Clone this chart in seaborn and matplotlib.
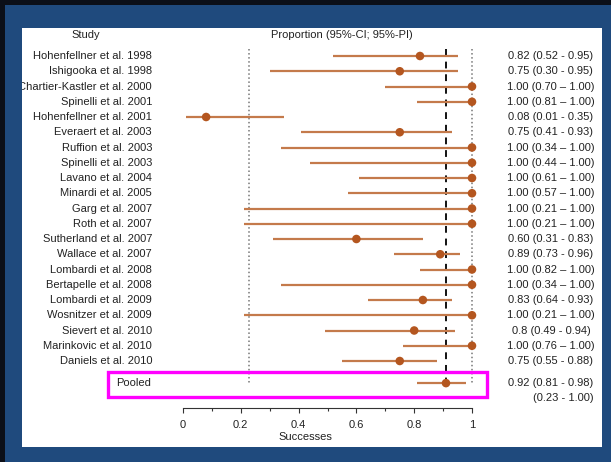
import numpy as np
import pandas as pd
import matplotlib
matplotlib.use('Agg')
import matplotlib.pyplot as plt
import seaborn as sns
from matplotlib.patches import Rectangle

# study-level proportions with 95% CI
studies = [
    'Hohenfellner et al. 1998', 'Ishigooka et al. 1998', 'Chartier-Kastler et al. 2000',
    'Spinelli et al. 2001', 'Hohenfellner et al. 2001', 'Everaert et al. 2003',
    'Ruffion et al. 2003', 'Spinelli et al. 2003', 'Lavano et al. 2004',
    'Minardi et al. 2005', 'Garg et al. 2007', 'Roth et al. 2007',
    'Sutherland et al. 2007', 'Wallace et al. 2007', 'Lombardi et al. 2008',
    'Bertapelle et al. 2008', 'Lombardi et al. 2009', 'Wosnitzer et al. 2009',
    'Sievert et al. 2010', 'Marinkovic et al. 2010', 'Daniels et al. 2010',
]
estimate = [0.82, 0.75, 1.00, 1.00, 0.08, 0.75, 1.00, 1.00, 1.00, 1.00, 1.00,
            1.00, 0.60, 0.89, 1.00, 1.00, 0.83, 1.00, 0.80, 1.00, 0.75]
ci_low = [0.52, 0.30, 0.70, 0.81, 0.01, 0.41, 0.34, 0.44, 0.61, 0.57, 0.21,
          0.21, 0.31, 0.73, 0.82, 0.34, 0.64, 0.21, 0.49, 0.76, 0.55]
ci_high = [0.95, 0.95, 1.00, 1.00, 0.35, 0.93, 1.00, 1.00, 1.00, 1.00, 1.00,
           1.00, 0.83, 0.96, 1.00, 1.00, 0.93, 1.00, 0.94, 1.00, 0.88]
ci_text = [
    '0.82 (0.52 - 0.95)', '0.75 (0.30 - 0.95)', '1.00 (0.70 \u2013 1.00)',
    '1.00 (0.81 \u2013 1.00)', '0.08 (0.01 - 0.35)', '0.75 (0.41 - 0.93)',
    '1.00 (0.34 \u2013 1.00)', '1.00 (0.44 \u2013 1.00)', '1.00 (0.61 \u2013 1.00)',
    '1.00 (0.57 \u2013 1.00)', '1.00 (0.21 \u2013 1.00)', '1.00 (0.21 \u2013 1.00)',
    '0.60 (0.31 - 0.83)', '0.89 (0.73 - 0.96)', '1.00 (0.82 \u2013 1.00)',
    '1.00 (0.34 \u2013 1.00)', '0.83 (0.64 - 0.93)', '1.00 (0.21 \u2013 1.00)',
    '0.8 (0.49 - 0.94)', '1.00 (0.76 \u2013 1.00)', '0.75 (0.55 - 0.88)',
]

# pooled estimate and prediction interval
pooled_est = 0.91
pooled_low = 0.81
pooled_high = 0.98
pi_low = 0.23
pi_high = 1.00
pooled_text = '0.92 (0.81 - 0.98)'
pi_text = '(0.23 - 1.00)'

xticks = [0, 0.2, 0.4, 0.6, 0.8, 1]
xtick_labels = ['0', '0.2', '0.4', '0.6', '0.8', '1']

BLUE = '#1f4a7d'
LINE_C = '#c47a4b'
DOT_C = '#b4561f'
TXT = '#222222'

sns.set_theme(style='white')
plt.rcParams['font.family'] = ['Liberation Sans', 'DejaVu Sans']

df = pd.DataFrame({'study': studies, 'est': estimate, 'lo': ci_low, 'hi': ci_high})
df['row'] = np.arange(len(df))
pooled_row = len(df) + 0.45

W, H = 611, 462
fig = plt.figure(figsize=(W / 100, H / 100), dpi=100)
fig.patch.set_facecolor(BLUE)
# white panel and dark edges of the slide
panel = Rectangle((22 / W, 1 - 447 / H), 580 / W, 419 / H,
                  transform=fig.transFigure, facecolor='white', edgecolor='none', zorder=0)
fig.add_artist(panel)
fig.add_artist(Rectangle((0, 0), 5 / W, 1, transform=fig.transFigure,
                         facecolor='#0b0f18', edgecolor='none', zorder=0))
fig.add_artist(Rectangle((0, 1 - 5 / H), 1, 5 / H, transform=fig.transFigure,
                         facecolor='#0b0f18', edgecolor='none', zorder=0))

# axes: x=0 at 183px, x=1 at 472px; row i at 56 + 15.25*i px
x0, xs = 183, 289
r0, rs = 56, 15.25
xlim = (-0.6, 1.45)
ylim = (26, -2)
left_px = x0 + xs * xlim[0]
right_px = x0 + xs * xlim[1]
top_px = r0 + rs * ylim[1]
bot_px = r0 + rs * ylim[0]
ax = fig.add_axes([left_px / W, 1 - bot_px / H, (right_px - left_px) / W, (bot_px - top_px) / H])
ax.set_facecolor('none')
ax.set_xlim(*xlim)
ax.set_ylim(*ylim)

# reference lines: prediction interval (dotted) and pooled estimate (dashed)
ax.vlines([pi_low, pi_high], -0.45, pooled_row + 0.1, colors='#777777', linestyles=':', linewidth=1.1, zorder=1)
ax.vlines(pooled_est, -0.45, pooled_row, colors='#111111', linestyles=(0, (3.5, 3)), linewidth=1.4, zorder=1)

# confidence intervals and point estimates
ax.hlines(df['row'], df['lo'], df['hi'], color=LINE_C, linewidth=1.6, zorder=2)
ax.hlines(pooled_row, pooled_low, pooled_high, color=LINE_C, linewidth=1.6, zorder=2)
sns.scatterplot(data=df, x='est', y='row', color=DOT_C, s=38, edgecolor='none', zorder=3, ax=ax)
ax.scatter([pooled_est], [pooled_row], color=DOT_C, s=38, edgecolor='none', zorder=3)

# labels
fs = 8
for i, (name, txt) in enumerate(zip(studies, ci_text)):
    t = ax.text(-0.107, i, name, ha='right', va='center', fontsize=fs, color=TXT, clip_on=True)
    t.set_clip_path(panel)
    ax.text(1.273, i, txt, ha='center', va='center', fontsize=fs, color=TXT)
ax.text(-0.233, pooled_row, 'Pooled', ha='left', va='center', fontsize=fs, color=TXT)
ax.text(1.42, pooled_row, pooled_text, ha='right', va='center', fontsize=fs, color=TXT)
ax.text(1.42, pooled_row + 0.95, pi_text, ha='right', va='center', fontsize=fs, color=TXT)

ax.text((86 - x0) / xs, -1.38, 'Study', ha='center', va='center', fontsize=fs, color=TXT)
ax.text((342 - x0) / xs, -1.38, 'Proportion (95%-CI; 95%-PI)', ha='center', va='center', fontsize=fs, color=TXT)

# highlight box around pooled row
box = Rectangle(((108 - x0) / xs, pooled_row - 0.7), (487 - 108) / xs, 1.62,
                facecolor='none', edgecolor='#ff00ff', linewidth=2.4, zorder=4)
ax.add_patch(box)

# x axis drawn just below the pooled rows
for side in ['top', 'left', 'right']:
    ax.spines[side].set_visible(False)
ax.spines['bottom'].set_position(('data', (408 - r0) / rs))
ax.spines['bottom'].set_bounds(0, 1)
ax.spines['bottom'].set_color('#333333')
ax.spines['bottom'].set_linewidth(0.8)
ax.set_xticks(xticks)
ax.set_xticklabels(xtick_labels)
ax.set_xticks(np.arange(0.1, 1.0, 0.2), minor=True)
ax.tick_params(axis='x', which='major', direction='out', length=3.8, width=0.8,
               color='#333333', labelsize=fs, labelcolor=TXT, pad=4.5, bottom=True)
ax.tick_params(axis='x', which='minor', direction='out', length=2.2, width=0.8,
               color='#333333', bottom=True)
ax.set_yticks([])
ax.set_ylabel('')
ax.set_xlabel('Successes', fontsize=fs, color=TXT, labelpad=1.5)

fig.savefig('out.png', dpi=100, facecolor=fig.get_facecolor())
